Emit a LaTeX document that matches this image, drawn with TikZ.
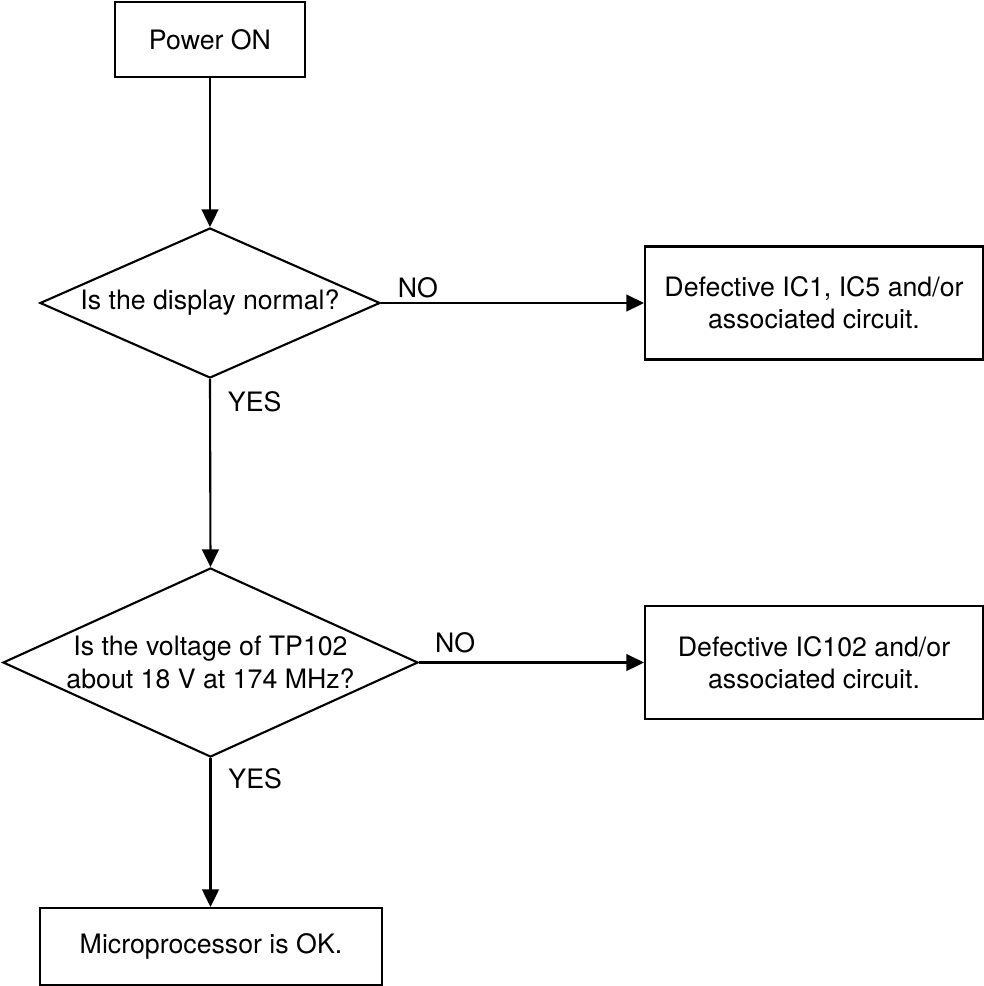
\documentclass[tikz,border=0pt]{standalone}
\usepackage{fontspec}
\setmainfont{TeX Gyre Heros}
\usetikzlibrary{
arrows.meta,
shapes,
positioning
}

\begin{document}
\begin{tikzpicture}[
    x=0.025cm, y=-0.025cm,
    line width=1.5pt,
    >={Triangle[length=4.4mm,width=4.2mm]},
    base/.style={draw, align=center, inner sep=0pt, font=\fontsize{19}{23}\selectfont},
    proc/.style={base, minimum width=8.45cm, minimum height=2.825cm},
    test/.style={base, diamond, aspect=2.2},
    lbl/.style={font=\fontsize{19}{23}\selectfont, inner sep=3pt}]
  \useasboundingbox (0,0) rectangle (984,986);
  \node[base, minimum width=4.75cm, minimum height=1.875cm] (power) at (210,39.5) {Power ON};
  \node[test, minimum width=8.5cm, minimum height=3.75cm] (display) at (210,303) {Is the display normal?};
  \node[proc] (faildisp) at (814,303) {Defective IC1, IC5 and/or\\associated circuit.};
  \node[test, minimum width=10.375cm, minimum height=4.725cm] (voltage) at (210.5,662.5) {Is the voltage of TP102\\about 18 V at 174 MHz?};
  \node[proc] (failvolt) at (814,662.5) {Defective IC102 and/or\\associated circuit.};
  \node[base, minimum width=8.55cm, minimum height=1.925cm] (okay) at (211,946.5) {Microprocessor is OK.};

  \draw[->] (power) -- (display);
  \draw[->] (display.east) -- node[lbl, above, pos=0.14] {NO} (faildisp.west);
  \draw[->] (display.south) -- node[lbl, right=9pt, pos=0.12] {YES} (voltage.north);
  \draw[->] (voltage.east) -- node[lbl, above, pos=0.16, yshift=3pt] {NO} (failvolt.west);
  \draw[->] (voltage.south) -- node[lbl, right=9pt, pos=0.14] {YES} (voltage.south |- okay.north);
\end{tikzpicture}
\end{document}
